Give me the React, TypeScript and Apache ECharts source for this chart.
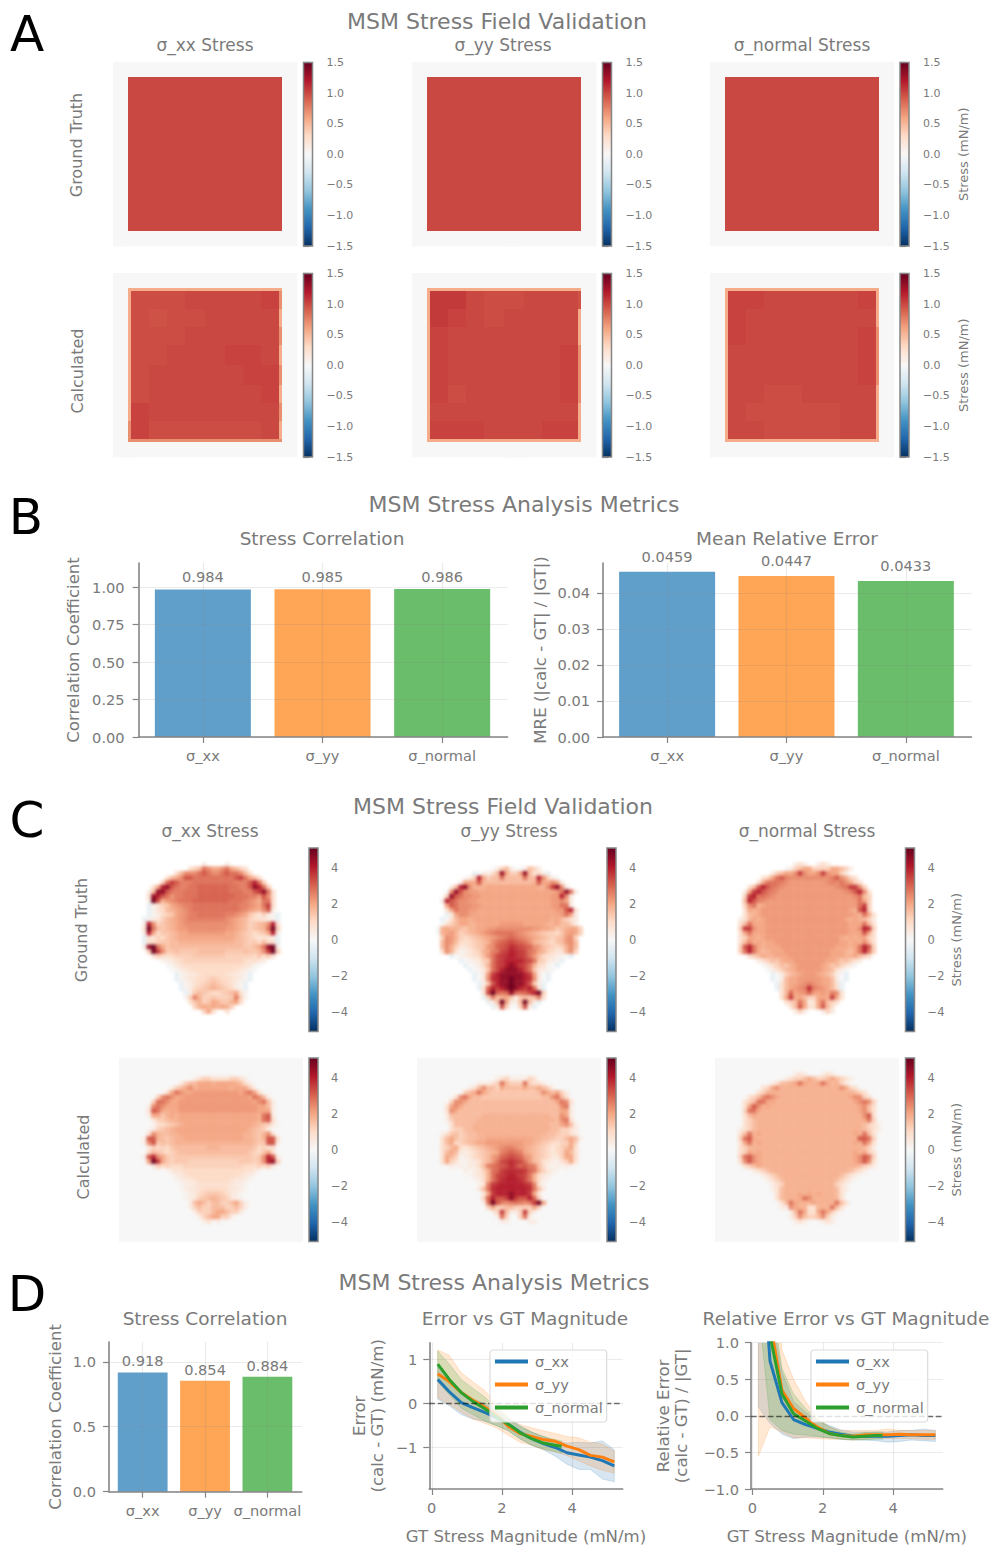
import React, { useEffect, useRef } from "react";
import * as echarts from "echarts";

const FONT = "DejaVu Sans";
const GRAY = "#7a7a7a";
const AXIS = "#858585";
const GRIDLINE = "rgba(128,128,128,0.16)";

const categories = ["σ_xx", "σ_yy", "σ_normal"];
const barColors = ["#619fcb", "#ffa556", "#6abd6a"];
const lineColors = ["#1f77b4", "#ff7f0e", "#2ca02c"];

const corrB = [0.984, 0.985, 0.986];
const mreB = [0.0459, 0.0447, 0.0433];
const corrD = [0.918, 0.854, 0.884];

const magX = [0.17, 0.5, 0.84, 1.17, 1.51, 1.84, 2.18, 2.51, 2.85, 3.18, 3.52, 3.85, 4.19, 4.52, 4.86, 5.2];
const magXGreen = [0.17, 0.5, 0.84, 1.17, 1.51, 1.84, 2.18, 2.51, 2.85, 3.18, 3.52, 3.7];

const errXX = [0.55, 0.27, 0.02, -0.09, -0.2, -0.32, -0.47, -0.65, -0.8, -0.91, -1.0, -1.12, -1.17, -1.22, -1.3, -1.42];
const errXXLo = [0.1, -0.05, -0.25, -0.35, -0.4, -0.5, -0.62, -0.8, -0.95, -1.05, -1.2, -1.38, -1.5, -1.5, -1.72, -1.78];
const errXXHi = [0.85, 0.55, 0.3, 0.1, 0.0, -0.15, -0.35, -0.5, -0.65, -0.75, -0.85, -0.9, -0.88, -0.9, -0.85, -1.05];
const errYY = [0.68, 0.5, 0.25, 0.08, -0.08, -0.25, -0.52, -0.68, -0.75, -0.82, -0.86, -0.97, -1.05, -1.18, -1.22, -1.33];
const errYYLo = [0.13, -0.02, -0.2, -0.35, -0.45, -0.55, -0.72, -0.88, -0.95, -1.05, -1.1, -1.18, -1.3, -1.42, -1.52, -1.58];
const errYYHi = [1.22, 1.1, 0.7, 0.5, 0.3, 0.0, -0.3, -0.48, -0.55, -0.62, -0.68, -0.75, -0.78, -0.88, -0.92, -1.08];
const errNN = [0.9, 0.55, 0.25, 0.05, -0.12, -0.3, -0.47, -0.66, -0.8, -0.9, -0.95, -0.97];
const errNNLo = [0.5, 0.2, -0.1, -0.25, -0.4, -0.5, -0.62, -0.8, -0.95, -1.03, -1.1, -1.13];
const errNNHi = [1.2, 0.9, 0.55, 0.35, 0.15, -0.1, -0.32, -0.52, -0.65, -0.75, -0.82, -0.85];

const relXX = [3, 0.75, 0.18, -0.05, -0.12, -0.17, -0.22, -0.25, -0.28, -0.28, -0.28, -0.28, -0.27, -0.26, -0.27, -0.27];
const relXXLo = [0.12, -0.1, -0.25, -0.31, -0.29, -0.29, -0.3, -0.32, -0.33, -0.33, -0.34, -0.36, -0.35, -0.33, -0.34, -0.35];
const relXXHi = [6, 1.5, 0.6, 0.2, 0.05, -0.07, -0.13, -0.19, -0.22, -0.22, -0.22, -0.22, -0.2, -0.2, -0.18, -0.2];
const relYY = [3, 1.3, 0.35, 0.1, -0.03, -0.15, -0.24, -0.27, -0.28, -0.26, -0.26, -0.26, -0.25, -0.26, -0.26, -0.26];
const relYYLo = [-0.55, -0.15, -0.22, -0.3, -0.3, -0.31, -0.32, -0.32, -0.33, -0.32, -0.31, -0.31, -0.31, -0.31, -0.32, -0.32];
const relYYHi = [6, 3, 0.9, 0.5, 0.2, -0.02, -0.15, -0.2, -0.2, -0.2, -0.2, -0.18, -0.2, -0.2, -0.2, -0.2];
const relNN = [4, 1.1, 0.3, 0.03, -0.07, -0.17, -0.24, -0.27, -0.29, -0.28, -0.27, -0.27];
const relNNLo = [1.5, -0.05, -0.2, -0.25, -0.26, -0.28, -0.3, -0.32, -0.33, -0.33, -0.32, -0.32];
const relNNHi = [6, 1.8, 0.65, 0.3, 0.1, -0.05, -0.15, -0.22, -0.25, -0.23, -0.22, -0.22];

// Section A fields: cell boundaries in image pixels, and one letter per cell
const squareEdges = [0, 15, 18, 36, 54, 72, 92, 112, 130, 148, 166, 169, 184];
const squareLevels: Record<string, number> = { z: 0, l: 0.56, k: 0.7, m: 0.96, n: 0.98, o: 1.0, p: 1.02, q: 1.06 };
const squareGT = [
  "zzzzzzzzzzzz", "zoooooooooooz".slice(0, 11) + "z", "zoooooooooozz".slice(0, 11) + "z", "zoooooooooozz".slice(0, 11) + "z",
  "zoooooooooozz".slice(0, 11) + "z", "zoooooooooozz".slice(0, 11) + "z", "zoooooooooozz".slice(0, 11) + "z", "zoooooooooozz".slice(0, 11) + "z",
  "zoooooooooozz".slice(0, 11) + "z", "zoooooooooozz".slice(0, 11) + "z", "zoooooooooozz".slice(0, 11) + "z", "zzzzzzzzzzzz",
];
const squareCalcXX = [
  "zzzzzzzzzzzz",
  "zllllllllllz",
  "zlnnnoooopkz",
  "zlnmnnoooolz",
  "zlnnnoooookz",
  "zlnnoooppolz",
  "zlnoooooppkz",
  "zlnooooooplz",
  "zlpoooooookz",
  "zkpnnnnnnolz",
  "zkkkkkkkkkkz",
  "zzzzzzzzzzzz",
];
const squareCalcYY = [
  "zzzzzzzzzzzz",
  "zllllllllllz",
  "zlqqonnooomz",
  "zlqponoooolz",
  "zlpooooooolz",
  "zlpoooooopkz",
  "zlpoooooopkz",
  "zlpnooooopkz",
  "zloooooooolz",
  "zlpppooopplz",
  "zllllllllllz",
  "zzzzzzzzzzzz",
];
const squareCalcNN = [
  "zzzzzzzzzzzz",
  "zllllllllllz",
  "zlppoooooplz",
  "zlpooooooolz",
  "zlpoooooopkz",
  "zlooooooopkz",
  "zlooooooopkz",
  "zloonnoooolz",
  "zlonnnnnoolz",
  "zloonnnnoolz",
  "zllllllllllz",
  "zzzzzzzzzzzz",
];

// Section C fields: 40 x 40 cells, one character per cell, "." is empty
const shellLevels: Record<string, number> = {
  "-": -0.4, "0": 0, a: 0.2, "1": 0.4, b: 0.6, "2": 0.8, c: 1.0, "3": 1.2, d: 1.4, "4": 1.6, e: 1.8, "5": 2.0, f: 2.2, "6": 2.4,
  g: 2.6, "7": 2.8, h: 3.0, "8": 3.2, i: 3.4, "9": 3.6, j: 3.8, A: 4, B: 4.5, C: 5,
};
const shellGtXX = [
  "", "", "",
  "..................1....1",
  "...............2347655675432",
  "............24666787667877642",
  "..........245688777777777897542",
  ".........3798ggg777777777ggg8A73",
  ".......25AB87gg77hhhhhhh77gg8BA73",
  "......14BB87gg777hhhhhhh777gg89B72",
  "......2BA87fgg777hhhhhhhh777ggf862",
  "......1C8ef6g777hhhhhhhh777g6fe772",
  "......-1b3d5f6gg7777777777gg6f5792",
  "......-a2c4e5f6g7777777777g6f5e681",
  "......-a1c3d5f6gg777777gg6f5dcb31a-",
  ".....-a1b34e5f6gggggggg6f5e43c2b1a-",
  ".....1A63d4e5f6666666666f5e43d4e6A2",
  ".....2C74d4e5ff66666666ff5e43d4e7C3",
  ".....1A5cdd4e55ffffffff55e4d3c3d5A1",
  ".....-2b3cd4e555555555555e4d3cb2b1-",
  ".....-2c3dd44eeeeeeeeeeee44d3dc4c2-",
  ".....1BC75d4444444444444444dd457BC1",
  "......3C96dd4dddd444444dddd4dd469C3",
  ".......b3c2c3333ddddddd333333cdc3b",
  ".........a1b2c3333333333333c2cb1",
  "..........0ab2ccccccccccccc2ba0",
  "...........0a1b2ccccccccc2b1a0",
  "............-a1bb2ccccc2bb1a-",
  "............-a1b2cc3d3cc2b1a-",
  ".............-a12c3d4d3c21a-",
  ".............-a1c3d4e4d3c1a-",
  "..............-1d4d3cc3d452a",
  "..............a3ge33d333dg3a",
  "...............2de3d5edde52",
  "................3e5e5e5e3",
  "..................352..2",
  "", "", "", "",
];
const shellGtYY = [
  "", "", "", "",
  "................01341001431",
  "............-01124B5335B4221-",
  "..........013A534474444744A6310",
  ".........15558e4444444444e855651",
  ".......14AB6eee55555555555ee69B61",
  "......06B86ff55555555555555555f7B71",
  "......3B8766ff555555555555555ffA61",
  ".....1A8766ff5555555555555555ff651",
  "......587666ff555555555555555ff771",
  "......25766ff55555555555555555ff8A2",
  "......-1566f5555555555555555555f751",
  ".....-02455e55555555555555555e54321",
  ".....023455ee55555fffff55555ee54431",
  "....0e5ee4dee55ff66666666ff55ed4e553",
  "....0e5fe3d4e5f6g7777g6f5e4d33cd5f53",
  ".....36fe3c3d4e5f6g7h7g6f5e4d3d4f63",
  ".....46f4c2c3d4e67h8i8h76e4d3cd4f64",
  ".....46e3bbc3d4f6h8ij9i8h6f4d3c3e64",
  ".....26e2a1bc3e5g7i9Aj9i7g5e3cb2e63",
  ".......-0a1b2c4f7i9jAj9i7f4c2b1a0-",
  ".........-0a1b3d7i9AAAA9i7d3b1a-",
  "..........-0a1ce7i9ABA9i7ec2a0-",
  "...........-0abd7iABBBAi7db1a0",
  "............-0bf9ABBBBBA9fb0-",
  "............-0b6jABBCBBAj6b0-",
  ".............-1d8ABBCBBA8d1-",
  ".............-2hA9ABCBA9Ah2-",
  "..............2iCh7hBh7hiAC3",
  "..............-3g4e5d1d4d4g2",
  "...............-14C5114C41-",
  "................-18300381-",
  "", "", "", "", "",
];
const shellGtNN = [
  "", "", "",
  ".................121..121",
  "...............013455333355431",
  "............13455696556965531",
  "..........23578g666666666g86532",
  ".........25777g6ffffffff6g676532",
  ".......248A87g6fffffffffff6g79963",
  "......159A87g6ffffffffffffff6g8A62",
  "......39A77g6fffffffffffffffff6743",
  "......4A8g6ffffffffffffffffffff753",
  "......367e5ffffffffffffffffffff793",
  "......25e5fffffffffffffffffff5e8A3",
  "......24e5ffffffffffffffffffff5e752",
  ".....1245e5fffffffffffffffff5e5e431",
  ".....247555ffffffffffffffffff555742",
  ".....39965 5ffffffffffffffffff556A93".replace(" ", ""),
  ".....257555ffffffffffffffffff555852",
  ".....2355e5ffffffffffffffff5e5e5532",
  ".....246e5e55ffffffffffffff55e5e642",
  ".....38A75e555ffffffffffff555e57A83",
  ".....37A754e555ffffffffff555e457A73",
  ".......2345ee555fffffffff555ee5432",
  ".........1234de55fffffff55ed4321",
  "..........01234de5fffff5ed43210",
  "...........01234e5fffff5e4210",
  "............-0134e5fff5e4310-",
  "............-01455fffff55410-",
  ".............-2455f6g6f5542-",
  ".............-245f6gjg6f542-",
  "..............24h5f6hf5f5g62",
  "..............25955433555952",
  "...............234751257432",
  "................2485225842",
  ".................131...131",
  "", "", "", "",
];
const shellCalcXX = [
  "", "", "", "",
  "...............01233222233210",
  "............01344555e5555e421",
  "..........013456e5555555e555310",
  ".........0257655ffffffffff567520",
  ".......0367655ffffffffffffff57641",
  "......0377655ffffffffffffffff56741",
  "......1676555fffffffffffffffff5541",
  "......2875e55fffffffffffffffff5551",
  "......155de5e55555555555555555e781",
  "......0b3d4ee55555555555555555e782",
  "......0a2c3d4e555555555555555e4d3ba",
  ".....0a13d4e5555555555555555e4d310",
  ".....026e44ee55555555555555ee4de620",
  ".....188e4d4ee5555555555555ee4de882",
  ".....168d4d4eeeeeeeeeeeeeeeee4dd881",
  ".....0b3c3cd4444444eee4444444dc3b20",
  ".....0c4d3c3d444444444444444d3cd520",
  ".....18A65d3ddddddddddddddddd3d6A81",
  "......5C95d3ddd33333333333ddd3d6AB3",
  ".......13c3ccc3333333333333ccc3c31",
  ".........0ab22ccccccccccccc22ba0",
  "..........0a1b2ccccccccccc2b1a0",
  "...........0a1bb2ccccccc2bb1a0",
  "............0a11b2222222b11a0",
  "............0a1bb2ccccc2bb1a0",
  ".............0a1bc3ddd3cb1a0",
  ".............0a1b3d4e4d3b1a0",
  "..............01454344334531",
  "..............01343344433431",
  "...............013334554331",
  "................0134553310",
  "..................12.1",
  "", "", "", "",
];
const shellCalcYY = [
  "", "", "", "",
  "................01231111320",
  "............01112374333732210",
  "..........012464435444454454310",
  ".........0345754dddddddddd4654531",
  ".......0267544ddddddddddddd446742",
  "......0366544444444444444444445762",
  "......2565444444444444444444444671",
  "......2654444444444444444444444551",
  "......14444444eeeeeeeeeeeeeee44651",
  "......1344444eeeeeeeeeeeeeeeee4672",
  "......024444eeeeeeeeeeeeeeeee445641",
  ".....0023344eeeeeeeeeeeeeeeee443321",
  ".....12d43d44eeeeeeeeeeeeeee44d3321",
  "....024543d44ee5555555555ee44d334541",
  "....0245c3d4e55ffffffff55e4d3c233530",
  ".....2345cbc3d4e5f6gg6f5e4d3cbc3452",
  ".....2454b1bc3d4e5g7h7g5e4d3cbc3542",
  ".....2543a1bc3d4f6h8i8h6f4d3cbb3552",
  ".....2532aa1b2d4f7i9j9i7f4d2b1a2352",
  ".......1a1ab1c4g7h8ijih87g4c1a1a1a",
  ".........01a1b3e7h9jjjj9h7e3b1a0",
  "..........0a1bce7i9jAj9i7ecb1a0",
  "...........0a1ce7ijAAAji7ec1a0",
  "............0a2g9jAAAAAj9g2a0",
  "............0b47jAAAAAAAj74b0",
  ".............0b59AAABAAA95b0",
  ".............03hA889B988Ah30",
  "..............17C8g6g7g6g9C5",
  "..............03533443333530",
  "...............013941139310",
  "................0173003710",
  ".................011...011",
  "", "", "", "",
];
const shellCalcNN = [
  "", "", "",
  ".................121...121",
  "...............123345433454321",
  "............1244e575ee5754e31",
  "..........2356eeeeeeeeeeeee6532",
  ".........23eeeeeeeeeeeeeeeeeee432",
  ".......2346765eeeeeeeeeeeeeee56632",
  "......2347755eeeeeeeeeeeeeeeee56763",
  "......2586e5eeeeeeeeeeeeeeeeeee5642",
  "......3775eeeeeeeeeeeeeeeeeeeee5642",
  "......245eeeeeeeeeeeeeeeeeeeeeee682",
  "......234eeeeeeeeeeeeeeeeeeeeeee573",
  "......234eeeeeeeeeeeeeeeeeeeeeee4321",
  ".....1234eeeeeeeeeeeeeeeeeeeeeee4321",
  ".....247e5eeeeeeeeeeeeeeeeeeee5e742",
  ".....3785eeeeeeeeeeeeeeeeeeeeee8873",
  ".....257e5eeeeeeeeeeeeeeeeeeee5e752",
  ".....234eeeeeeeeeeeeeeeeeeeeeeee431",
  ".....235e5eeeeeeeeeeeeeeeeeeee5e532",
  ".....37865eeeeeeeeeeeeeeeeeeee56873",
  ".....26865eeeeeeeeeeeeeeeeeeee56862",
  "......2345eeeeeeeeeeeeeeeeeeeee4321",
  "........1234eeeeeeeeeeeeeeeee4321",
  "..........1234eeeeeeeeeeeee4321",
  "...........1234eeeeeeeeeee4321",
  "............123eeeeeeeeeee321",
  "............124eeeeeeeeeee421",
  ".............24eee5e5e5eee42",
  ".............24eee57 6eeeee42".replace(" ", ""),
  "..............2475eee5eeee742",
  "..............1165ee22eee742",
  "...............014752257531",
  "................1364334631",
  ".................121...121",
  "", "", "", "",
];

const stressTicksA = [-1.5, -1, -0.5, 0, 0.5, 1, 1.5];
const stressTicksC = [-4, -2, 0, 2, 4];
const RDBU = ["#053061", "#2166ac", "#4393c3", "#92c5de", "#d1e5f0", "#f7f7f7", "#fddbc7", "#f4a582", "#d6604d", "#b2182b", "#67001f"];

function rdbu(v: number, vmax: number): string {
  const t = Math.max(0, Math.min(1, (v / vmax + 1) / 2)) * (RDBU.length - 1);
  const i = Math.min(RDBU.length - 2, Math.floor(t));
  const f = t - i;
  const h = (s: string, k: number) => parseInt(s.slice(k, k + 2), 16);
  const mix = (k: number) => Math.round(h(RDBU[i], k) * (1 - f) + h(RDBU[i + 1], k) * f);
  return `rgb(${mix(1)},${mix(3)},${mix(5)})`;
}

const hidden = (min: number, max: number, gridIndex: number, inverse = false) => ({
  type: "value", show: false, min, max, gridIndex, inverse, splitLine: { show: false },
});

type Built = { grid: any[]; xAxis: any[]; yAxis: any[]; series: any[] };
const newBuilt = (): Built => ({ grid: [], xAxis: [], yAxis: [], series: [] });

function addField(b: Built, box: number[], edges: number[], rows: string[], levels: Record<string, number>, vmax: number) {
  const g = b.grid.length;
  b.grid.push({ left: box[0], top: box[1], width: box[2], height: box[3] });
  b.xAxis.push(hidden(edges[0], edges[edges.length - 1], g));
  b.yAxis.push(hidden(edges[0], edges[edges.length - 1], g, true));
  const data: number[][] = [];
  rows.forEach((row, r) => {
    for (let c = 0; c < row.length && c < edges.length - 1; c++) {
      const v = levels[row[c]];
      if (v !== undefined) data.push([edges[c], edges[c + 1], edges[r], edges[r + 1], v]);
    }
  });
  b.series.push({
    type: "custom", xAxisIndex: g, yAxisIndex: g, silent: true, data,
    encode: { x: [0, 1], y: [2, 3] },
    renderItem: (_: any, api: any) => {
      const p0 = api.coord([api.value(0), api.value(2)]);
      const p1 = api.coord([api.value(1), api.value(3)]);
      return {
        type: "rect",
        shape: { x: p0[0], y: p0[1], width: p1[0] - p0[0] + 0.4, height: p1[1] - p0[1] + 0.4 },
        style: { fill: rdbu(api.value(4), vmax), stroke: "none" },
      };
    },
  });
}

function addColorbar(b: Built, box: number[], vmax: number, ticks: number[], digits: number, margin: number, fontSize: number, name?: string, nameGap = 0) {
  const g = b.grid.length;
  b.grid.push({ left: box[0], top: box[1], width: box[2], height: box[3] });
  b.xAxis.push(hidden(0, 1, g));
  const fmt = (v: number) => v.toFixed(digits).replace("-", "−");
  b.yAxis.push({
    type: "value", gridIndex: g, position: "right", min: -vmax, max: vmax,
    axisLine: { show: false }, splitLine: { show: false },
    axisTick: { show: true, length: 6, lineStyle: { color: AXIS, width: 1.2 }, customValues: ticks },
    axisLabel: { show: true, color: GRAY, fontFamily: FONT, fontSize, margin, formatter: fmt, customValues: ticks },
    name, nameLocation: "middle", nameGap, nameRotate: 90,
    nameTextStyle: { color: GRAY, fontFamily: FONT, fontSize: 13 },
  });
  const stops = RDBU.map((c, i) => ({ offset: i / (RDBU.length - 1), color: c }));
  b.series.push({
    type: "custom", xAxisIndex: g, yAxisIndex: g, silent: true, data: [[0, -vmax, 1, vmax]],
    encode: { x: [0, 2], y: [1, 3] },
    renderItem: (_: any, api: any) => {
      const p0 = api.coord([0, vmax]);
      const p1 = api.coord([1, -vmax]);
      return {
        type: "rect",
        shape: { x: p0[0], y: p0[1], width: p1[0] - p0[0], height: p1[1] - p0[1] },
        style: { fill: new echarts.graphic.LinearGradient(0, 1, 0, 0, stops), stroke: AXIS, lineWidth: 1.5 },
      };
    },
  });
}

const axisCommon = () =>
  ({
    axisLine: { show: true, onZero: false, lineStyle: { color: AXIS, width: 1.6 } },
    nameTextStyle: { color: GRAY, fontFamily: FONT, fontSize: 16.6, lineHeight: 18 },
    nameLocation: "middle",
  }) as any;

function addBars(
  b: Built, box: number[], values: number[], yMax: number, yTicks: number[], digits: number, xLim: number[],
  barWidth: number, yName: string, yGap: number, yMargin: number, labelGap: number,
) {
  const g = b.grid.length;
  const fs = 14.6;
  b.grid.push({ left: box[0], top: box[1], width: box[2], height: box[3] });
  const idx = categories.map((_, i) => i);
  b.xAxis.push({
    ...axisCommon(), type: "value", gridIndex: g, min: xLim[0], max: xLim[1], z: 3,
    splitLine: { show: true, lineStyle: { color: GRIDLINE, width: 1.2 } },
    axisTick: { show: true, length: 6, lineStyle: { color: AXIS, width: 1.2 }, customValues: idx },
    axisLabel: { color: GRAY, fontFamily: FONT, fontSize: fs, margin: 11, customValues: idx, formatter: (v: number) => categories[v] ?? "" },
  });
  b.yAxis.push({
    ...axisCommon(), type: "value", gridIndex: g, min: 0, max: yMax, z: 3,
    name: yName, nameGap: yGap, nameRotate: 90,
    splitLine: { show: true, lineStyle: { color: GRIDLINE, width: 1.2 } },
    axisTick: { show: true, length: 6, lineStyle: { color: AXIS, width: 1.2 }, customValues: yTicks },
    axisLabel: { color: GRAY, fontFamily: FONT, fontSize: fs, margin: yMargin, customValues: yTicks, formatter: (v: number) => v.toFixed(digits) },
  });
  b.series.push({
    type: "bar", xAxisIndex: g, yAxisIndex: g, barWidth, silent: true,
    data: values.map((v, i) => ({ value: [i, v], itemStyle: { color: barColors[i] } })),
    label: {
      show: true, position: "top", distance: labelGap, color: GRAY, fontFamily: FONT, fontSize: fs,
      formatter: (p: any) => String(p.value[1]),
    },
  });
}

function addLines(
  b: Built, box: number[], xLim: number[], yLim: number[], yTicks: number[], digits: number, yName: string, yGap: number,
  curves: { name: string; xs: number[]; mean: number[]; lo: number[]; hi: number[] }[],
) {
  const g = b.grid.length;
  const fs = 14.6;
  const xTicks = [0, 2, 4];
  b.grid.push({ left: box[0], top: box[1], width: box[2], height: box[3] });
  b.xAxis.push({
    ...axisCommon(), type: "value", gridIndex: g, min: xLim[0], max: xLim[1],
    name: "GT Stress Magnitude (mN/m)", nameGap: 38,
    splitLine: { show: true, lineStyle: { color: GRIDLINE, width: 1.2 } },
    axisTick: { show: true, length: 6, lineStyle: { color: AXIS, width: 1.2 }, customValues: xTicks },
    axisLabel: { color: GRAY, fontFamily: FONT, fontSize: fs, margin: 11, customValues: xTicks, formatter: (v: number) => String(v) },
  });
  b.yAxis.push({
    ...axisCommon(), type: "value", gridIndex: g, min: yLim[0], max: yLim[1],
    name: yName, nameGap: yGap, nameRotate: 90,
    splitLine: { show: true, lineStyle: { color: GRIDLINE, width: 1.2 } },
    axisTick: { show: true, length: 6, lineStyle: { color: AXIS, width: 1.2 }, customValues: yTicks },
    axisLabel: {
      color: GRAY, fontFamily: FONT, fontSize: fs, margin: 12, customValues: yTicks,
      formatter: (v: number) => v.toFixed(digits).replace("-", "−"),
    },
  });
  curves.forEach((c, i) => {
    const color = lineColors[i];
    b.series.push({
      type: "custom", xAxisIndex: g, yAxisIndex: g, silent: true, clip: true, name: c.name + " band", data: [[c.xs[0], c.mean[0]]],
      encode: { x: 0, y: 1 }, z: 2,
      renderItem: (_: any, api: any) => {
        const top = c.xs.map((x, k) => api.coord([x, c.hi[k]]));
        const bot = c.xs.map((x, k) => api.coord([x, c.lo[k]])).reverse();
        return {
          type: "polygon", shape: { points: top.concat(bot) },
          style: { fill: color, opacity: 0.18, stroke: color, lineWidth: 1 },
        };
      },
    });
    b.series.push({
      type: "line", name: c.name, xAxisIndex: g, yAxisIndex: g, showSymbol: false, silent: true, z: 3,
      data: c.xs.map((x, k) => [x, c.mean[k]]),
      lineStyle: { color, width: 3 }, itemStyle: { color },
      ...(i === 0
        ? {
            markLine: {
              silent: true, symbol: "none", label: { show: false }, data: [{ yAxis: 0 }],
              lineStyle: { color: "rgba(0,0,0,0.55)", type: "dashed", width: 1.4 },
            },
          }
        : {}),
    });
  });
}

const legendAt = (left: number, top: number) => ({
  left, top, orient: "vertical", data: categories, icon: "rect", itemWidth: 33, itemHeight: 4, itemGap: 8, z: 6,
  padding: [4, 4, 7, 5], selectedMode: false,
  backgroundColor: "rgba(255,255,255,0.8)", borderColor: "#dcdcdc", borderWidth: 1.2, borderRadius: 3,
  textStyle: { color: GRAY, fontFamily: FONT, fontSize: 14.6, padding: [0, 0, 0, 2] },
});

const tt = (text: string, x: number, y: number, size: number, color = GRAY) => ({
  text, left: x, top: y - size * 0.48, textAlign: "center", padding: 0,
  textStyle: { color, fontFamily: FONT, fontSize: size, fontWeight: "normal" },
});
const rot = (text: string, x: number, y: number, size: number) => ({
  type: "text", x, y, rotation: Math.PI / 2, silent: true,
  style: { text, fill: GRAY, font: `${size}px '${FONT}'`, align: "center", verticalAlign: "middle" },
});

export default function App() {
  const mainRef = useRef<HTMLDivElement>(null);
  const fineRef = useRef<HTMLDivElement>(null);
  const blurRef = useRef<HTMLDivElement>(null);
  useEffect(() => {
    const main = echarts.init(mainRef.current!, null, { renderer: "svg" });
    const fine = echarts.init(fineRef.current!, null, { renderer: "svg" });
    const soft = echarts.init(blurRef.current!, null, { renderer: "svg" });
    const m = newBuilt();
    const f = newBuilt();
    const s = newBuilt();

    const aCols = [113, 412, 710];
    const aBarX = [303.5, 602.5, 900];
    const aRows = [62, 273];
    [squareGT, squareGT, squareGT].forEach((rows, i) => addField(f, [aCols[i], aRows[0], 184, 184], squareEdges, rows, squareLevels, 1.5));
    [squareCalcXX, squareCalcYY, squareCalcNN].forEach((rows, i) => addField(f, [aCols[i], aRows[1], 184, 184], squareEdges, rows, squareLevels, 1.5));
    aRows.forEach((y) =>
      aBarX.forEach((x, i) => addColorbar(m, [x, y + 0.5, 9, 183.5], 1.5, stressTicksA, 1, 14, 11, i === 2 ? "Stress (mN/m)" : undefined, 48)),
    );

    addBars(m, [138.6, 563, 369, 174], corrB, 1.16, [0, 0.25, 0.5, 0.75, 1], 2, [-0.537, 2.547], 96, "Correlation Coefficient", 56, 14, 5);
    addBars(m, [603, 563, 368.5, 174], mreB, 0.04833, [0, 0.01, 0.02, 0.03, 0.04], 2, [-0.537, 2.55], 96, "MRE (|calc - GT| / |GT|)", 54, 13, 8);

    const cEdges: number[] = [];
    for (let i = 0; i <= 40; i++) cEdges.push(i);
    const cCols = [119, 417, 715];
    const cBarX = [309, 607, 905.5];
    const cRows = [848, 1058];
    [shellGtXX, shellGtYY, shellGtNN].forEach((rows, i) => addField(s, [cCols[i], cRows[0], 184, 184], cEdges, rows, shellLevels, 5.1));
    [shellCalcXX, shellCalcYY, shellCalcNN].forEach((rows, i) => addField(s, [cCols[i], cRows[1], 184, 184], cEdges, rows, shellLevels, 5.1));
    cCols.forEach((x) => {
      const g = m.grid.length;
      m.grid.push({ left: x, top: cRows[1], width: 184, height: 184, show: true, backgroundColor: "#f7f7f7", borderWidth: 0 });
      m.xAxis.push(hidden(0, 1, g));
      m.yAxis.push(hidden(0, 1, g));
    });
    cRows.forEach((y) =>
      cBarX.forEach((x, i) => addColorbar(m, [x, y, 9, 183.5], 5.1, stressTicksC, 0, 13, 11.5, i === 2 ? "Stress (mN/m)" : undefined, 35)),
    );

    addBars(m, [109, 1342, 192.7, 149.7], corrD, 1.152, [0, 0.5, 1], 1, [-0.54, 2.55], 49.8, "Correlation Coefficient", 45, 13, 4);
    addLines(m, [429.3, 1342.7, 193.4, 149], [-0.07, 5.44], [-1.946, 1.387], [-1, 0, 1], 0, "Error\n(calc - GT) (mN/m)", 43, [
      { name: categories[0], xs: magX, mean: errXX, lo: errXXLo, hi: errXXHi },
      { name: categories[1], xs: magX, mean: errYY, lo: errYYLo, hi: errYYHi },
      { name: categories[2], xs: magXGreen, mean: errNN, lo: errNNLo, hi: errNNHi },
    ]);
    addLines(m, [751, 1342.7, 191.7, 149], [-0.04, 5.41], [-1, 1], [-1, -0.5, 0, 0.5, 1], 1, "Relative Error\n(calc - GT) / |GT|", 61, [
      { name: categories[0], xs: magX, mean: relXX, lo: relXXLo, hi: relXXHi },
      { name: categories[1], xs: magX, mean: relYY, lo: relYYLo, hi: relYYHi },
      { name: categories[2], xs: magXGreen, mean: relNN, lo: relNNLo, hi: relNNHi },
    ]);

    const titles = [
      tt("A", 27, 33, 50, "#000"), tt("B", 26, 516, 50, "#000"), tt("C", 27, 819, 50, "#000"), tt("D", 27, 1293, 50, "#000"),
      tt("MSM Stress Field Validation", 497, 21, 22),
      tt("σ_xx Stress", 205, 45, 17), tt("σ_yy Stress", 503, 45, 17), tt("σ_normal Stress", 802, 45, 17),
      tt("MSM Stress Analysis Metrics", 524, 504, 22),
      tt("Stress Correlation", 322, 538, 18.5), tt("Mean Relative Error", 787, 538, 18.5),
      tt("MSM Stress Field Validation", 503, 806, 22),
      tt("σ_xx Stress", 210, 831, 17), tt("σ_yy Stress", 509, 831, 17), tt("σ_normal Stress", 807, 831, 17),
      tt("MSM Stress Analysis Metrics", 494, 1282, 22),
      tt("Stress Correlation", 205, 1318, 18.5), tt("Error vs GT Magnitude", 525, 1318, 18.5), tt("Relative Error vs GT Magnitude", 846, 1318, 18.5),
    ];
    const graphic = [
      rot("Ground Truth", 76, 145, 16), rot("Calculated", 77, 371, 16),
      rot("Ground Truth", 81, 930, 16), rot("Calculated", 83, 1157, 16),
    ];

    main.setOption({
      animation: false,
      title: titles,
      grid: m.grid, xAxis: m.xAxis, yAxis: m.yAxis, series: m.series,
      legend: [legendAt(490, 1350), legendAt(811, 1350)],
      graphic,
    });
    fine.setOption({ animation: false, grid: f.grid, xAxis: f.xAxis, yAxis: f.yAxis, series: f.series });
    soft.setOption({ animation: false, grid: s.grid, xAxis: s.xAxis, yAxis: s.yAxis, series: s.series });
    return () => {
      main.dispose();
      fine.dispose();
      soft.dispose();
    };
  }, []);
  const layer = { position: "absolute", left: 0, top: 0, width: 992, height: 1546 } as const;
  return (
    <div style={{ ...layer, background: "#fff", overflow: "hidden" }}>
      <div ref={mainRef} style={layer} />
      <div ref={fineRef} style={{ ...layer, filter: "blur(0.7px)", pointerEvents: "none" }} />
      <div ref={blurRef} style={{ ...layer, filter: "blur(1.8px)", pointerEvents: "none" }} />
    </div>
  );
}
